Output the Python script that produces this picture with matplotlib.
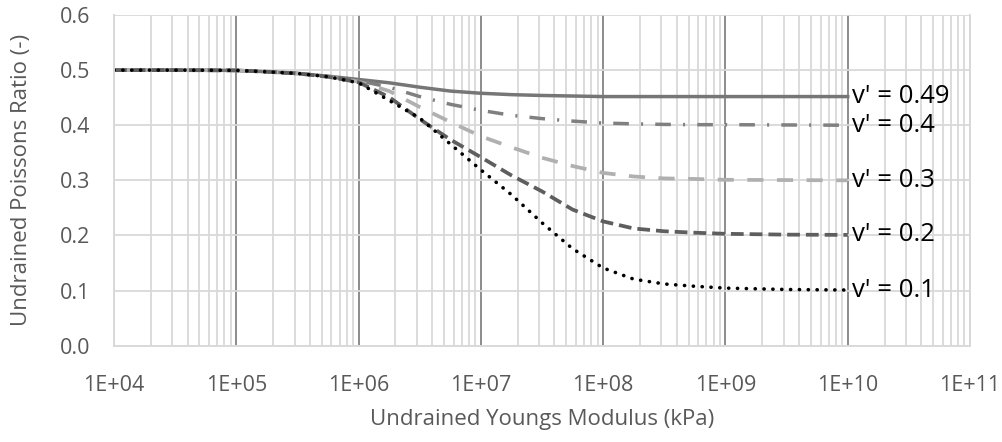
import matplotlib
matplotlib.use("Agg")
import matplotlib.pyplot as plt
from matplotlib.ticker import LogLocator, FixedLocator, NullFormatter

plt.rcParams['font.family'] = ['Open Sans', 'DejaVu Sans']

# x positions (undrained Young's modulus, kPa) read at quarter decades
modulus = [1e4, 10**4.5, 1e5, 10**5.25, 10**5.5, 10**5.75, 1e6, 10**6.25, 10**6.5,
           10**6.75, 1e7, 10**7.25, 10**7.5, 10**7.75, 1e8, 10**8.25, 10**8.5,
           10**8.75, 1e9, 10**9.5, 1e10]

nu_049 = [0.500, 0.500, 0.4995, 0.497, 0.494, 0.489, 0.483, 0.477, 0.469, 0.462, 0.458,
          0.4555, 0.454, 0.453, 0.452, 0.452, 0.452, 0.452, 0.452, 0.452, 0.452]
nu_04 = [0.500, 0.500, 0.4995, 0.497, 0.494, 0.488, 0.481, 0.469, 0.452, 0.438, 0.427,
         0.418, 0.412, 0.4075, 0.404, 0.4025, 0.4015, 0.401, 0.401, 0.4005, 0.400]
nu_03 = [0.500, 0.500, 0.4995, 0.497, 0.494, 0.488, 0.479, 0.462, 0.433, 0.406, 0.380,
         0.360, 0.341, 0.326, 0.3135, 0.307, 0.3035, 0.3025, 0.301, 0.3005, 0.300]
nu_02 = [0.500, 0.500, 0.4995, 0.497, 0.494, 0.488, 0.478, 0.451, 0.411, 0.374, 0.342,
         0.309, 0.280, 0.247, 0.2255, 0.2127, 0.2076, 0.205, 0.203, 0.2015, 0.201]
nu_01 = [0.500, 0.500, 0.4995, 0.497, 0.494, 0.488, 0.477, 0.445, 0.413, 0.366, 0.319,
         0.274, 0.223, 0.176, 0.141, 0.1207, 0.112, 0.1078, 0.1045, 0.102, 0.101]

labels = ["v' = 0.49", "v' = 0.4", "v' = 0.3", "v' = 0.2", "v' = 0.1"]
x_ticks = [1e4, 1e5, 1e6, 1e7, 1e8, 1e9, 1e10, 1e11]
x_tick_labels = ["1E+04", "1E+05", "1E+06", "1E+07", "1E+08", "1E+09", "1E+10", "1E+11"]
y_ticks = [0.0, 0.1, 0.2, 0.3, 0.4, 0.5, 0.6]

fig = plt.figure(figsize=(10.03, 4.42), dpi=100)
ax = fig.add_axes([114/1003, 1-345.7/442, (970-114)/1003, (345.7-15)/442])

ax.set_xscale('log')
ax.set_xlim(1e4, 1e11)
ax.set_ylim(0, 0.6)

# gridlines
ax.set_axisbelow(True)
ax.xaxis.set_major_locator(FixedLocator(x_ticks))
ax.xaxis.set_minor_locator(LogLocator(base=10, subs=range(2, 10), numticks=20))
ax.xaxis.set_minor_formatter(NullFormatter())
ax.set_xticks(x_ticks)
ax.set_xticklabels(x_tick_labels)
ax.set_yticks(y_ticks)
ax.set_yticklabels(["%.1f" % v for v in y_ticks])
ax.grid(which='minor', axis='x', color='#d9d9d9', lw=1.3)
ax.grid(which='major', axis='x', color='#8c8c8c', lw=1.4)
ax.grid(which='major', axis='y', color='#d9d9d9', lw=1.3)
for s in ['left', 'right', 'top', 'bottom']:
    ax.spines[s].set_color('#d9d9d9')
    ax.spines[s].set_linewidth(1.4)
ax.spines['top'].set_visible(False)
ax.tick_params(which='both', length=0, labelsize=15.5, colors='#595959')
ax.tick_params(axis='x', pad=21)
ax.tick_params(axis='y', pad=17)

series = [
    (nu_049, dict(color='#767676', lw=2.5, linestyle='-')),
    (nu_04, dict(color='#808080', lw=2.5, linestyle=(0, (4.5, 3.5, 0.6, 3.5)))),
    (nu_03, dict(color='#b0b0b0', lw=2.7, linestyle=(0, (4.3, 3.6)))),
    (nu_02, dict(color='#5e5e5e', lw=2.7, linestyle=(0, (3.4, 1.6)))),
    (nu_01, dict(color='black', lw=2.6, linestyle=(0, (0.05, 2.4)), dash_capstyle='round')),
]
for (vals, style), lab in zip(series, labels):
    ax.plot(modulus, vals, **style)
    ax.annotate(lab, xy=(modulus[-1], vals[-1]), xytext=(3, 0), textcoords='offset points',
                ha='left', va='center', fontsize=18.5, color='black')

fig.text(542/1003, 1-419/442, "Undrained Youngs Modulus (kPa)", ha='center', va='center',
         fontsize=16, color='#595959')
fig.text(22/1003, 1-180/442, "Undrained Poissons Ratio (-)", ha='center', va='center',
         rotation=90, fontsize=16, color='#595959')

fig.savefig("out.png", dpi=100)
